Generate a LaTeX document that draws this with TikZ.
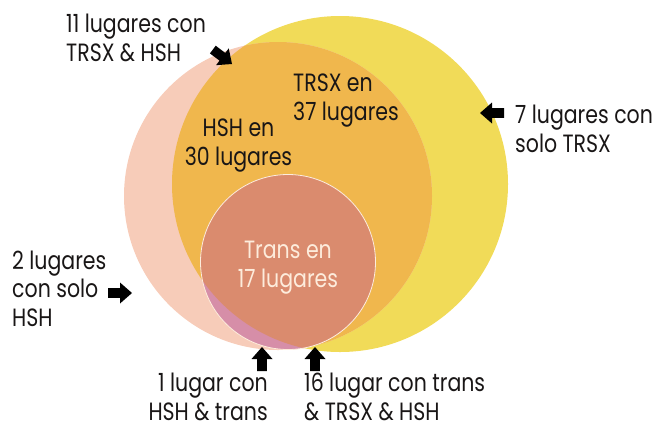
\documentclass[tikz,border=0pt]{standalone}
\usepackage{fontspec}
\setmainfont{Poppins}[FakeStretch=0.82]
\definecolor{ytrsx}{RGB}{241,219,88}
\definecolor{oboth}{RGB}{240,183,77}
\definecolor{phsh}{RGB}{247,204,185}
\definecolor{ctrans}{RGB}{218,139,110}
\definecolor{pmix}{RGB}{214,142,168}
\definecolor{txt}{RGB}{25,22,22}
\definecolor{cream}{RGB}{253,236,220}
\tikzset{
  lab/.style={font=\fontsize{25}{28.5}\selectfont, text=txt, inner sep=0pt, align=left},
  pics/blockarrow/.style={code={
    \fill[black] (0,0) -- (-12,-10.5) -- (-12,-4.8) -- (-24,-4.8) -- (-24,4.8) -- (-12,4.8) -- (-12,10.5) -- cycle;}}
}
\begin{document}
\begin{tikzpicture}[x=1pt,y=-1pt]
\useasboundingbox (0,0) rectangle (652,429);
% TRSX and HSH circles
\fill[ytrsx] (340,184) circle (168);
\fill[phsh] (278,196) circle (154);
\begin{scope}
  \clip (278,196) circle (154);
  \fill[oboth] (340,184) circle (168);
\end{scope}
% Trans circle
\fill[pmix] (288,262) circle (87.5);
\begin{scope}
  \clip (340,184) circle (168);
  \fill[ctrans] (288,262) circle (87.5);
\end{scope}
\draw[cream, line width=0.8pt] (288,262) circle (87.5);
% labels (base anchor = baseline of last line)
\node[lab, anchor=base west] (l11) at (66,61) {11 lugares con\\TRSX \& HSH};
\node[lab, anchor=base west] (l7) at (515,152) {7 lugares con\\solo TRSX};
\node[lab, anchor=base west] (l2) at (12,326) {2 lugares\\con solo\\HSH};
\node[lab, anchor=base east, align=right, text depth=0pt] (l1) at (268,420) {1 lugar con\\HSH \& trans};
\node[lab, anchor=base west, text depth=0pt] (l16) at (304,420) {16 lugar con trans\\\& TRSX \& HSH};
\node[lab, anchor=base west] (ltrsx) at (293,120) {TRSX en\\37 lugares};
\node[lab, anchor=base, align=center] (lhsh) at (238.5,165) {HSH en\\30 lugares};
\node[lab, anchor=base, align=center, text=cream] (ltrans) at (288,287) {Trans en\\17 lugares};
% arrows
\pic[rotate=-37] at (232,64) {blockarrow};
\pic[rotate=180] at (480,113) {blockarrow};
\pic at (132,293) {blockarrow};
\pic[rotate=90] at (262,347) {blockarrow};
\pic[rotate=90] at (315,347) {blockarrow};
\end{tikzpicture}
\end{document}
